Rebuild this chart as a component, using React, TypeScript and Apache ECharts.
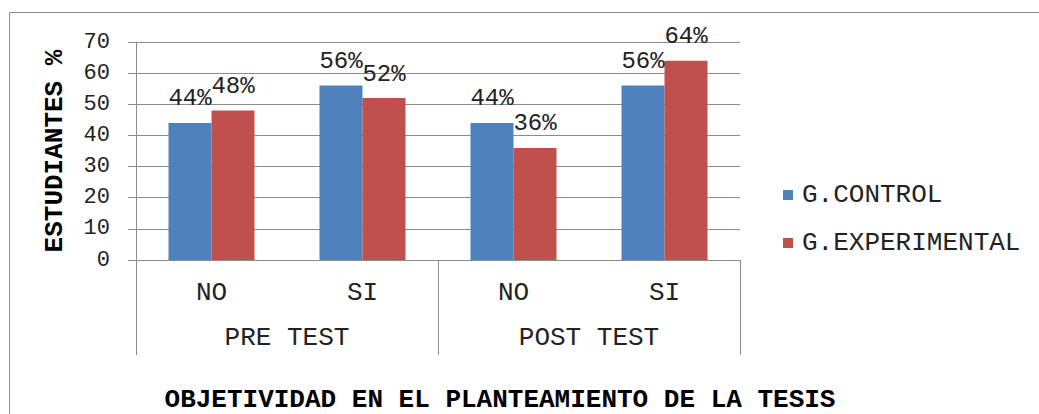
import React, { useEffect, useRef } from "react";
import * as echarts from "echarts";

const categories = ["NO", "SI", "NO", "SI"];
const groups = ["PRE TEST", "POST TEST"];
const controlValues = [44, 56, 44, 56];
const experimentalValues = [48, 52, 36, 64];
const seriesNames = ["G.CONTROL", "G.EXPERIMENTAL"];
const yTicks = { min: 0, max: 70, interval: 10 };

const FONT = "'Liberation Mono', 'Courier New', monospace";
const GRID_COLOR = "#8c8c8c";

export default function App() {
  const ref = useRef<HTMLDivElement>(null);
  useEffect(() => {
    if (!ref.current) return;
    const chart = echarts.init(ref.current, null, { renderer: "svg" });
    const labelStyle = {
      show: true,
      position: "top" as const,
      distance: 12,
      formatter: "{c}%",
      fontFamily: FONT,
      fontSize: 24,
      color: "#222",
    };
    chart.setOption({
      animation: false,
      backgroundColor: "#fff",
      title: {
        text: "OBJETIVIDAD EN EL PLANTEAMIENTO DE LA TESIS",
        left: 500,
        top: 387,
        padding: 0,
        textAlign: "center",
        textStyle: {
          fontFamily: FONT,
          fontSize: 26,
          lineHeight: 26,
          fontWeight: "bold",
          color: "#000",
        },
      },
      graphic: [
        {
          type: "rect",
          shape: { x: 9.5, y: 12.5, width: 1100, height: 500 },
          style: { fill: "none", stroke: "#8c8c8c", lineWidth: 1 },
          silent: true,
        },
      ],
      legend: {
        orient: "vertical",
        left: 778,
        top: 177,
        itemWidth: 10,
        itemHeight: 10,
        itemGap: 22,
        icon: "rect",
        textStyle: { fontFamily: FONT, fontSize: 26, color: "#222", padding: [0, 0, 0, 4] },
        data: seriesNames,
      },
      grid: { left: 136, top: 42, right: 299, bottom: 154 },
      xAxis: [
        {
          type: "category",
          data: categories,
          position: "bottom",
          axisLine: { lineStyle: { color: GRID_COLOR } },
          axisTick: { show: false },
          axisLabel: { fontFamily: FONT, fontSize: 26, color: "#222", margin: 20 },
        },
        {
          type: "category",
          data: groups,
          position: "bottom",
          axisLine: { show: false },
          axisTick: { show: true, length: 95, lineStyle: { color: GRID_COLOR } },
          axisLabel: { fontFamily: FONT, fontSize: 26, color: "#222", margin: 65 },
        },
      ],
      yAxis: {
        type: "value",
        min: yTicks.min,
        max: yTicks.max,
        interval: yTicks.interval,
        name: "ESTUDIANTES %",
        nameLocation: "middle",
        nameRotate: 90,
        nameGap: 68,
        nameTextStyle: { fontFamily: FONT, fontSize: 26, fontWeight: "bold", color: "#000" },
        axisLine: { show: true, lineStyle: { color: GRID_COLOR } },
        axisTick: { show: true, length: 8, lineStyle: { color: GRID_COLOR } },
        splitLine: { lineStyle: { color: GRID_COLOR } },
        axisLabel: { fontFamily: FONT, fontSize: 22, color: "#222", margin: 26 },
      },
      series: [
        {
          name: seriesNames[0],
          type: "bar",
          data: controlValues,
          barWidth: 43,
          barGap: "0%",
          itemStyle: { color: "#4f81bd" },
          label: labelStyle,
        },
        {
          name: seriesNames[1],
          type: "bar",
          data: experimentalValues,
          barWidth: 43,
          barGap: "0%",
          itemStyle: { color: "#c0504d" },
          label: labelStyle,
        },
      ],
    });
    return () => chart.dispose();
  }, []);
  return (
    <div
      ref={ref}
      style={{ position: "fixed", left: 0, top: 0, width: 1039, height: 414 }}
    />
  );
}
